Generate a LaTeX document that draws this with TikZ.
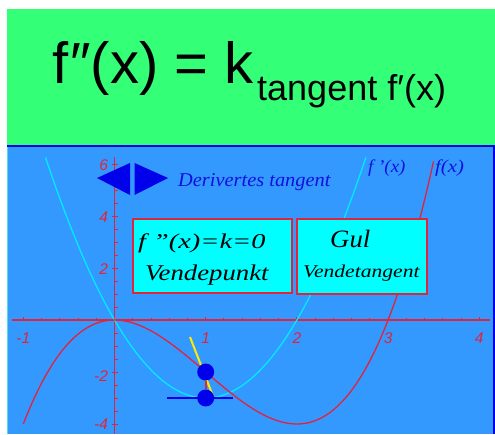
\documentclass[tikz,border=0pt]{standalone}
\usepackage{fontspec}
\setmainfont{Liberation Serif}
\setsansfont{Liberation Sans}
\definecolor{hdrgreen}{RGB}{51,255,119}
\definecolor{bgblue}{RGB}{51,153,255}
\definecolor{axred}{RGB}{225,35,60}
\definecolor{txtblue}{RGB}{15,15,225}
\definecolor{dotblue}{RGB}{0,0,235}
\definecolor{curvecyan}{RGB}{0,235,255}
\definecolor{boxcyan}{RGB}{0,255,255}
\definecolor{tanyellow}{RGB}{255,235,0}
\definecolor{edgecyan}{RGB}{80,220,230}
\tikzset{
  axisline/.style={axred, line width=1.4pt},
  tickmark/.style={axred, line width=0.9pt},
  ticklabel/.style={axred, inner sep=0pt, font=\sffamily\itshape\fontsize{15.5}{17}\selectfont},
  fcurve/.style={axred, line width=1.3pt},
  dcurve/.style={curvecyan, line width=1.3pt},
  infobox/.style={draw=axred, fill=boxcyan, line width=1.6pt, inner sep=0pt},
  boxtext/.style={black, inner sep=0pt, font=\itshape},
  bluetext/.style={txtblue, inner sep=0pt, font=\itshape},
  bigdot/.style={circle, fill=dotblue, inner sep=0pt, minimum size=17pt},
  arrowtri/.style={fill=dotblue}
}
\begin{document}
\begin{tikzpicture}[x=1pt,y=-1pt]
\useasboundingbox (0,0) rectangle (495,434);
\fill[white] (0,0) rectangle (495,434);
% header
\fill[hdrgreen] (7,9) rectangle (495,146);
\node[anchor=base west, inner sep=0pt, font=\sffamily\fontsize{58}{60}\selectfont] (mainformula) at (52,83) {f\kern2pt″(x) = k};
\node[anchor=base west, inner sep=0pt, font=\sffamily\fontsize{36}{40}\selectfont] (subformula) at (257,100) {tangent f′(x)};
% graph area
\fill[bgblue] (7,146) rectangle (495,434);
\draw[dotblue, line width=2pt] (7,146) -- (495,146);
\draw[dotblue, line width=2pt] (494,146) -- (494,434);
\draw[edgecyan, line width=1pt] (7.5,147) -- (7.5,434);

\begin{scope}[shift={(114.5,320)}, x=91.2pt, y=26pt]
  % axes
  \draw[axisline] (-1.124,0) -- (4.12,0);
  \draw[axisline] (0,6.27) -- (0,-4.4);
  \foreach \t in {-1,-0.8,...,4.05} \draw[tickmark] (\t,0) -- ++(0pt,2pt);
  \foreach \t in {-1,1,2,3,4} \draw[tickmark] (\t,0) -- ++(0pt,3.5pt);
  \foreach \t in {-4,-3.5,...,6.1} \draw[tickmark] (0,\t) -- ++(3pt,0pt);
  \foreach \t in {-4,-2,2,4,6} \draw[tickmark] (0,\t) ++(-3pt,0pt) -- ++(6pt,0pt);
  % tick labels
  \node[ticklabel] (xlm1) at (-1,-0.69) {-1};
  \node[ticklabel] (xl1) at (1,-0.69) {1};
  \node[ticklabel] (xl2) at (2,-0.69) {2};
  \node[ticklabel] (xl3) at (3,-0.69) {3};
  \node[ticklabel] (xl4) at (4,-0.69) {4};
  \node[ticklabel, anchor=east] (yl6) at (-0.07,5.95) {6};
  \node[ticklabel, anchor=east] (yl4) at (-0.07,3.95) {4};
  \node[ticklabel, anchor=east] (yl2) at (-0.07,1.95) {2};
  \node[ticklabel, anchor=east] (ylm2) at (-0.07,-2.15) {-2};
  \node[ticklabel, anchor=east] (ylm4) at (-0.07,-4.0) {-4};
  % curves
  \draw[dcurve] plot[domain=-0.756:2.756, samples=120, smooth] (\x,{3*\x*\x-6*\x});
  \draw[fcurve] plot[domain=-1:3.5, samples=140, smooth] (\x,{\x*\x*\x-3*\x*\x});
  % tangents
  \coordinate (ytA) at (0.828,-0.654);
  \coordinate (ytB) at (1.080,-2.923);
  \draw[tanyellow, line width=2pt] (ytA) -- (ytB);
  \coordinate (btA) at (0.576,-3);
  \coordinate (btB) at (1.299,-3);
  \draw[dotblue, line width=1.5pt] (btA) -- (btB);
  % dots
  \node[bigdot] (dotf) at (1,-2) {};
  \node[bigdot] (dotd) at (1,-3) {};
  \draw[axred, line width=1.6pt] (dotf) -- (dotd);
\end{scope}

% curve labels
\node[bluetext, anchor=west, font=\itshape\fontsize{18}{20}\selectfont] (lbld) at (368,168) {\scalebox{1.05}[1]{f '(x)}};
\node[bluetext, anchor=west, font=\itshape\fontsize{18}{20}\selectfont] (lblf) at (435,168) {\scalebox{1.15}[1]{f(x)}};

% boxes
\node[infobox, minimum width=159pt, minimum height=74pt] (box1) at (212.5,256) {};
\node[infobox, minimum width=130pt, minimum height=75pt] (box2) at (362,256.5) {};
\node[boxtext, anchor=base west, font=\itshape\fontsize{21}{24}\selectfont] (b1l1) at (138,248) {\scalebox{1.35}[1]{f "(x)=k=0}};
\node[boxtext, anchor=base west, font=\itshape\fontsize{22.5}{25}\selectfont] (b1l2) at (145,280) {\scalebox{1.19}[1]{Vendepunkt}};
\node[boxtext, anchor=base west, font=\itshape\fontsize{25}{28}\selectfont] (b2l1) at (330,247) {\scalebox{1.07}[1]{Gul}};
\node[boxtext, anchor=base west, font=\itshape\fontsize{18}{20}\selectfont] (b2l2) at (303,277) {\scalebox{1.2}[1]{Vendetangent}};

% arrows
\path[arrowtri] (97,178) -- (130,163) -- (130,195) -- cycle;
\path[arrowtri] (134.5,163) -- (134.5,195) -- (168,178) -- cycle;
\node[bluetext, anchor=base west, font=\itshape\fontsize{19.6}{22}\selectfont] (dertext) at (178,186) {\scalebox{1.04}[1]{Derivertes tangent}};
\end{tikzpicture}
\end{document}
